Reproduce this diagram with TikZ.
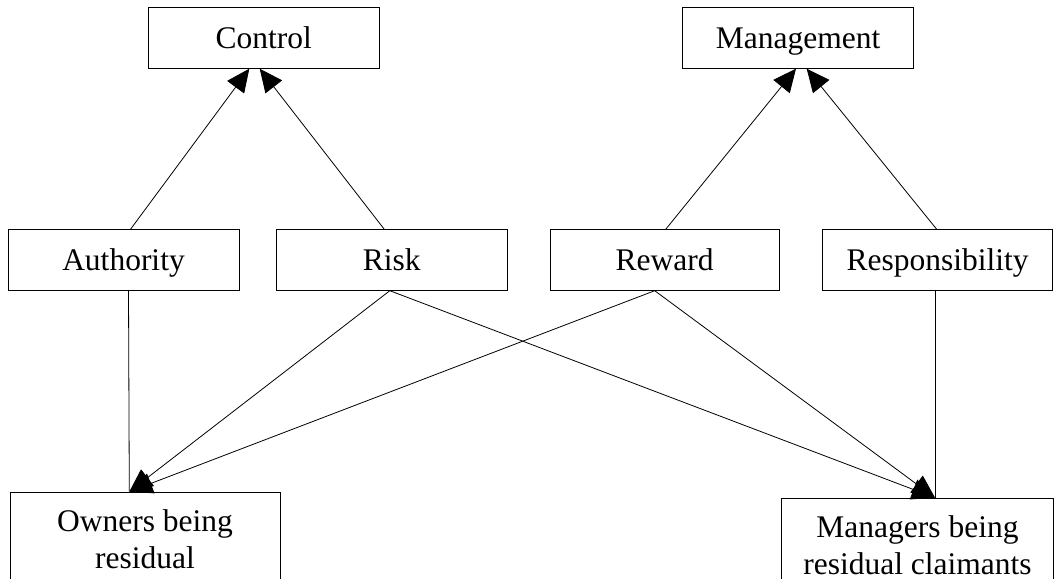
\documentclass[tikz,border=0pt]{standalone}
\usepackage{fontspec}
\setmainfont{Liberation Serif}
\usetikzlibrary{arrows.meta}
\begin{document}
\begin{tikzpicture}[x=1pt,y=-1pt,
  box/.style={draw, line width=0.9pt, rectangle, inner sep=0pt,
    minimum width=231pt, minimum height=60.5pt,
    font=\fontsize{31.5}{36.5}\selectfont, text height=24pt, text depth=3pt},
  twobox/.style={draw, line width=0.9pt, rectangle, anchor=north, align=center,
    inner xsep=0pt, inner ysep=17.5pt,
    font=\fontsize{31.5}{37}\selectfont},
  conn/.style={line width=0.8pt},
  arr/.style={conn, -{Triangle[length=23pt,width=21pt]}}]
\useasboundingbox (0,0) rectangle (1054,580);
\begin{scope}
\clip (0,0) rectangle (1054,578);
\node[box] (control) at (263.7,38) {Control};
\node[box] (management) at (798.2,38) {Management};
\node[box] (authority) at (123.5,260) {Authority};
\node[box] (risk) at (391.8,260) {Risk};
\node[box, minimum width=229.5pt] (reward) at (664.7,260) {Reward};
\node[box, minimum width=229.5pt] (responsibility) at (937.5,260) {Responsibility};
\node[twobox, minimum width=270pt, font=\fontsize{31.5}{36.5}\selectfont] (owners) at (145,491.7) {Owners being\\residual};
\node[twobox, minimum width=271.6pt] (managers) at (917.5,497.7) {Managers being\\residual claimants};

\draw[arr] ([xshift=7pt]authority.north) -- ([xshift=-14.4pt]control.south);
\draw[arr] ([xshift=-7.5pt]risk.north) -- ([xshift=-4pt]control.south);
\draw[arr] ([xshift=1pt]reward.north) -- ([xshift=-2.2pt]management.south);
\draw[arr] ([xshift=-0.8pt]responsibility.north) -- ([xshift=8.5pt]management.south);

\draw[conn] ([xshift=5pt]authority.south) -- ([xshift=-15.7pt]owners.north);
\draw[conn] ([xshift=-2.5pt]responsibility.south) -- ([xshift=17.5pt]managers.north);
\draw[arr] ([xshift=-2pt]risk.south) -- ([xshift=-15.7pt]owners.north);
\draw[arr] ([xshift=-10pt]reward.south) -- ([xshift=-15.7pt]owners.north);
\draw[arr] ([xshift=-2pt]risk.south) -- ([xshift=17.5pt]managers.north);
\draw[arr] ([xshift=-10pt]reward.south) -- ([xshift=17.5pt]managers.north);
\end{scope}
\end{tikzpicture}
\end{document}
